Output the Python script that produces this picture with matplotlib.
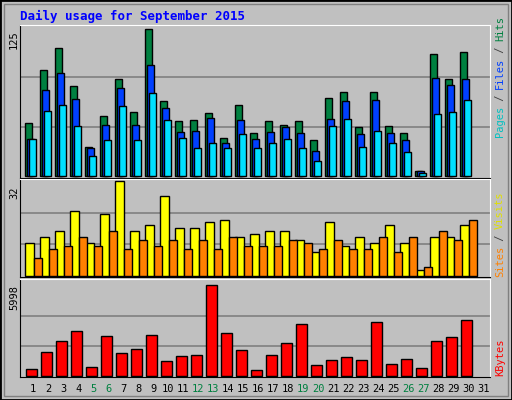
import matplotlib
matplotlib.use("Agg")
import matplotlib.pyplot as plt
from matplotlib.patches import Rectangle

days = list(range(1, 32))
hits = [45,90,109,77,25,51,83,55,125,64,47,48,54,33,61,37,47,44,47,31,67,72,42,72,43,37,5,104,83,106,0]
files = [32,73,88,66,24,44,75,44,95,58,38,39,50,28,48,32,38,42,37,22,49,64,36,65,37,31,5,84,78,83,0]
pages = [32,56,61,43,17,31,60,31,71,48,33,24,28,24,36,24,28,32,24,13,43,49,25,39,28,21,3,53,55,65,0]
visits = [11,13,15,22,11,21,32,15,17,27,16,16,18,19,13,14,15,15,12,8,18,10,13,11,17,11,2,13,13,17,0]
sites = [6,9,10,13,10,15,9,12,10,12,9,12,9,13,10,10,10,12,11,9,12,9,9,13,8,13,3,15,12,19,0]
kbytes = [482,1598,2321,2978,613,2650,1532,1795,2715,1007,1335,1401,5998,2846,1729,416,1401,2189,3437,744,1073,1270,1073,3568,810,1138,547,2321,2583,3700,0]
weekend = {5, 6, 12, 13, 19, 20, 26, 27}

W, H = 512, 400
BG = "#C0C0C0"
fig = plt.figure(figsize=(W/100, H/100), dpi=100, facecolor=BG)
mono = "DejaVu Sans Mono"

fig.patches.append(Rectangle((0, 0), 1, 1, transform=fig.transFigure, fill=False, edgecolor="black", lw=2))
fig.patches.append(Rectangle((4/W, 4/H), 1-8/W, 1-8/H, transform=fig.transFigure, fill=False, edgecolor="#808080", lw=1))

def ax_at(top, bottom):
    a = fig.add_axes([20/W, 1-bottom/H, 470/W, (bottom-top)/H])
    a.set_facecolor(BG)
    a.set_xlim(0.67, 32)
    a.set_xticks([]); a.set_yticks([])
    for s in a.spines.values():
        s.set_color("black")
    a.spines["right"].set_color("white"); a.spines["top"].set_color("white")
    return a

ec = dict(edgecolor="black", linewidth=1)

def bars(ax, offset, vals, width, color):
    xs = [d + offset for d, v in zip(days, vals) if v > 0]
    vs = [v for v in vals if v > 0]
    ax.bar(xs, vs, width=width, align="edge", color=color, **ec)

a1 = ax_at(25, 178)
a1.set_ylim(-1.3, 128.6)
for g in (41.6, 84.5):
    a1.axhline(g, color="#808080", lw=1.2, zorder=0)
bars(a1, 0, hits, 0.5, "#008040")
bars(a1, 0.15, files, 0.45, "#0040FF")
bars(a1, 0.3, pages, 0.45, "#00E0FF")

a2 = ax_at(179, 277)
a2.set_ylim(-0.3, 32.6)
for g in (10.7, 21.3):
    a2.axhline(g, color="#808080", lw=1.2, zorder=0)
bars(a2, 0, visits, 0.58, "#FFFF00")
bars(a2, 0.58, sites, 0.53, "#FF8000")

a3 = ax_at(279, 377)
a3.set_ylim(-40, 6400)
for g in (2000, 4000):
    a3.axhline(g, color="#808080", lw=1.2, zorder=0)
bars(a3, 0.1, kbytes, 0.7, "#FF0000")

fig.text(20/W, 1-16/H, "Daily usage for September 2015", color="#0000FF", fontsize=9, fontweight="bold", family=mono, va="center")
for y, t in ((40, "125"), (193, "32"), (298, "5998")):
    fig.text(14/W, 1-y/H, t, rotation=90, fontsize=7.5, family=mono, ha="center", va="center")

def vlabel(parts, ybottom):
    y = ybottom
    for txt, col in parts:
        fig.text(500/W, 1-y/H, txt, rotation=90, color=col, fontsize=7.5, family=mono, ha="center", va="bottom")
        y -= len(txt) * 6.0
vlabel([("Pages", "#00C0C0"), (" / ", "#404040"), ("Files", "#0040FF"), (" / ", "#404040"), ("Hits", "#008040")], 137)
vlabel([("Sites", "#FF8000"), (" / ", "#404040"), ("Visits", "#E0E000")], 277)
vlabel([("KBytes", "#FF0000")], 376)

for d in days:
    x = 20 + (d + 0.55 - 0.67) / (32 - 0.67) * 470
    fig.text(x/W, 1-389/H, str(d), color="#008040" if d in weekend else "black", fontsize=7.5, family=mono, ha="center", va="center")

fig.savefig("out.png", dpi=100, facecolor=BG)
